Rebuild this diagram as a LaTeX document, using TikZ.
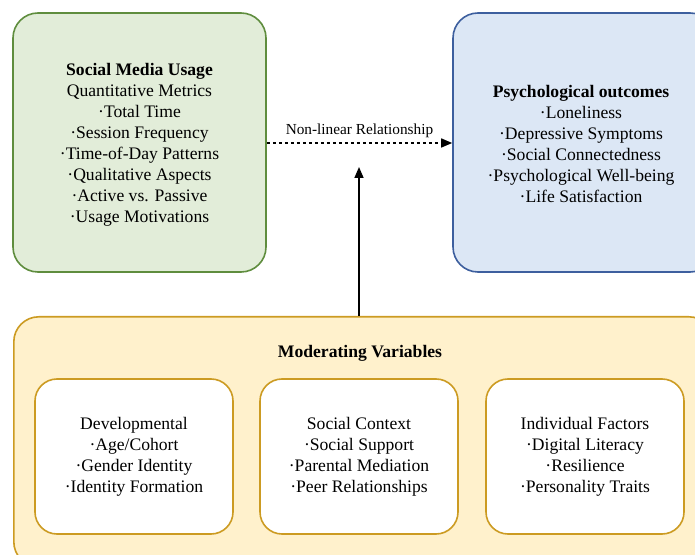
\documentclass[tikz,border=0pt]{standalone}
\usepackage{fontspec}
\setmainfont{Liberation Serif}
\usetikzlibrary{arrows.meta}
\definecolor{usageFill}{HTML}{E2EDD9}
\definecolor{usageLine}{HTML}{5F8D3E}
\definecolor{outFill}{HTML}{DCE7F5}
\definecolor{outLine}{HTML}{3D5F9E}
\definecolor{modFill}{HTML}{FFF1CC}
\definecolor{modLine}{HTML}{CC9B22}
\tikzset{
  x=1pt, y=1pt,
  bodyfont/.style={font=\fontsize{17.6}{21}\selectfont},
  panel/.style={draw, line width=1.6pt, rounded corners=25pt, inner sep=0pt,
    align=center, bodyfont},
  factorbox/.style={draw=modLine, fill=white, line width=1.6pt, rounded corners=22pt,
    minimum width=198pt, minimum height=155pt, inner sep=0pt, align=center, bodyfont},
  link/.style={line width=1.6pt, -{Triangle[length=11pt,width=9pt]}},
}
\begin{document}
\begin{tikzpicture}
\useasboundingbox (0,0) rectangle (695,554);
\clip (0,0) rectangle (695,554);
% upper boxes
\node[panel, draw=usageLine, fill=usageFill, minimum width=253pt, minimum height=259pt]
  (usage) at (139.5,411.5) {};
\node[bodyfont, align=center] (usagetext) at (139.5,409.5)
  {\textbf{Social Media Usage}\\Quantitative Metrics\\·Total Time\\·Session Frequency\\·Time-of-Day Patterns\\·Qualitative Aspects\\·Active vs. Passive\\·Usage Motivations};
\node[panel, draw=outLine, fill=outFill, minimum width=262pt, minimum height=259pt]
  (outcome) at (584,411.5) {};
\node[bodyfont, align=center] (outtext) at (581,410.5)
  {\textbf{Psychological outcomes}\\·Loneliness\\·Depressive Symptoms\\·Social Connectedness\\·Psychological Well-being\\·Life Satisfaction};
% moderators
\node[panel, draw=modLine, fill=modFill, minimum width=700pt, minimum height=250pt,
  anchor=north west] (mod) at (13,238) {};
\node[font=\fontsize{17.6}{21}\selectfont\bfseries] (modtitle) at (360,201) {Moderating Variables};
\node[factorbox] (dev) at (134,97.5) {Developmental\\·Age/Cohort\\·Gender Identity\\·Identity Formation};
\node[factorbox] (soc) at (359,97.5) {Social Context\\·Social Support\\·Parental Mediation\\·Peer Relationships};
\node[factorbox] (ind) at (585,97.5) {Individual Factors\\·Digital Literacy\\·Resilience\\·Personality Traits};
% connectors
\draw[link, line width=1.4pt, dashed] (usage.east |- 0,411) -- node[above=1pt, font=\fontsize{15.3}{18}\selectfont] (nl) {Non-linear Relationship} (outcome.west |- 0,411);
\coordinate (modtarget) at (359,387);
\draw[link] (mod.north -| modtarget) -- (modtarget);
\end{tikzpicture}
\end{document}
